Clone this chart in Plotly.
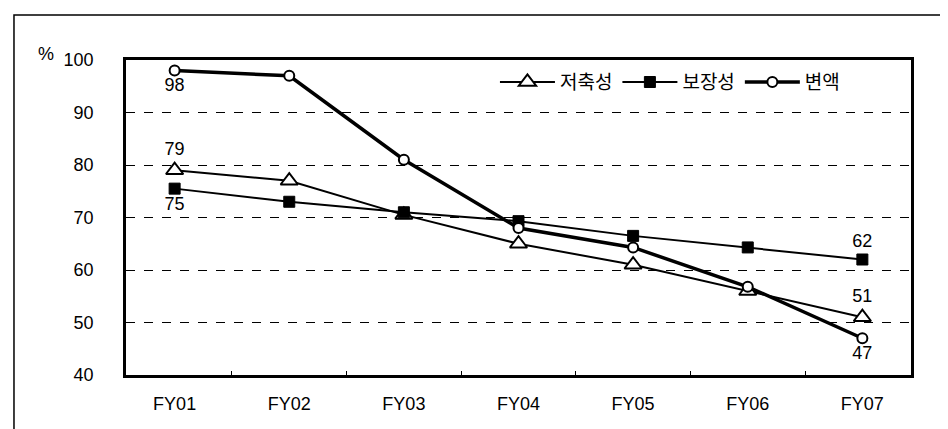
import plotly.graph_objects as go

categories = ["FY01", "FY02", "FY03", "FY04", "FY05", "FY06", "FY07"]
savings = [79, 77, 70.5, 65, 61, 56, 51]        # 저축성
protection = [75.5, 73, 71, 69.3, 66.5, 64.3, 62]  # 보장성
variable = [98, 97, 81, 68, 64.3, 56.8, 47]     # 변액

savings_labels = ["79", "", "", "", "", "", "51"]
protection_labels = ["75", "", "", "", "", "", "62"]
variable_labels = ["98", "", "", "", "", "", "47"]

FONT = "Liberation Sans, Noto Sans CJK KR, sans-serif"
FS = 18

fig = go.Figure()
fig.add_trace(go.Scatter(
    x=categories, y=savings, name="저축성", mode="lines+markers+text",
    text=savings_labels, textposition="top center",
    line=dict(color="black", width=2),
    marker=dict(symbol="triangle-up", size=15, color="white",
                line=dict(color="black", width=2)),
    textfont=dict(size=FS, color="black", family=FONT),
))
fig.add_trace(go.Scatter(
    x=categories, y=protection, name="보장성", mode="lines+markers+text",
    text=protection_labels,
    textposition=["bottom center"] * 6 + ["top center"],
    line=dict(color="black", width=2),
    marker=dict(symbol="square", size=11, color="black",
                line=dict(color="black", width=1)),
    textfont=dict(size=FS, color="black", family=FONT),
))
fig.add_trace(go.Scatter(
    x=categories, y=variable, name="변액", mode="lines+markers+text",
    text=variable_labels, textposition="bottom center",
    line=dict(color="black", width=3.5),
    marker=dict(symbol="circle", size=10, color="white",
                line=dict(color="black", width=2)),
    textfont=dict(size=FS, color="black", family=FONT),
))

fig.update_layout(
    width=948, height=429,
    margin=dict(l=118, r=45, t=52, b=62),
    paper_bgcolor="white", plot_bgcolor="white",
    font=dict(family=FONT, size=FS, color="black"),
    showlegend=True,
    legend=dict(orientation="h", x=0.47, y=0.99, xanchor="left", yanchor="top",
                bgcolor="rgba(0,0,0,0)", font=dict(size=19),
                itemwidth=55, tracegroupgap=0),
    xaxis=dict(type="category", showline=True, linecolor="black", linewidth=2.5,
               mirror=True, ticks="inside", ticklen=4, tickwidth=1,
               tickcolor="black", tickson="boundaries", showgrid=False,
               ticklabelstandoff=11, tickfont=dict(size=FS)),
    yaxis=dict(range=[40, 100], dtick=10, showline=True, linecolor="black",
               linewidth=2.5, mirror=True, showgrid=True, gridcolor="black",
               griddash="dash", gridwidth=1, ticks="", zeroline=False,
               ticklabelstandoff=26, tickfont=dict(size=FS)),
    shapes=[dict(type="rect", xref="paper", yref="paper",
                 x0=-0.1427, x1=1.2, y0=-0.4, y1=1.1429,
                 line=dict(color="black", width=1.5), layer="below")],
    annotations=[dict(text="%", xref="paper", yref="paper", x=-0.102, y=1.02,
                      showarrow=False, font=dict(size=18, family=FONT),
                      xanchor="center", yanchor="middle")],
)
fig.write_html("out.html")
